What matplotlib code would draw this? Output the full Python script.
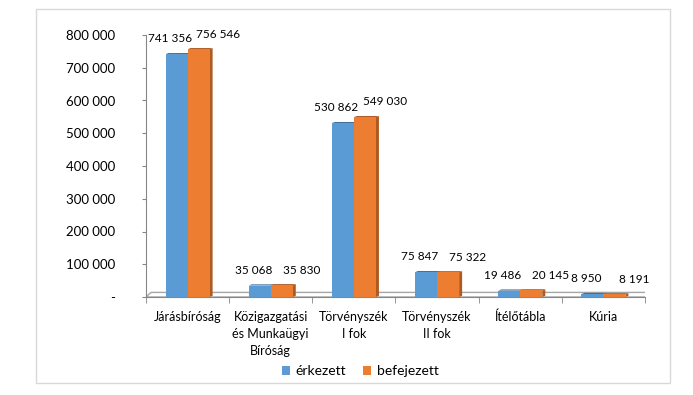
import numpy as np
import matplotlib
matplotlib.use("Agg")
import matplotlib.pyplot as plt
from matplotlib.patches import Polygon, Rectangle

categories = ["Járásbíróság", "Közigazgatási\nés Munkaügyi\nBíróság", "Törvényszék\nI fok",
              "Törvényszék\nII fok", "Ítélőtábla", "Kúria"]
erkezett = [741356, 35068, 530862, 75847, 19486, 8950]
befejezett = [756546, 35830, 549030, 75322, 20145, 8191]
series_names = ["érkezett", "befejezett"]
yticks = [0, 100000, 200000, 300000, 400000, 500000, 600000, 700000, 800000]

plt.rcParams['font.family'] = ['Lato', 'DejaVu Sans']

W, H = 693, 395
fig = plt.figure(figsize=(W / 100, H / 100), dpi=100)
ax = fig.add_axes([146 / W, 1 - 297 / H, (645 - 146) / W, (297 - 35) / H])

n = len(categories)
x = np.arange(n)
bw = 0.265
cols = ["#5B9BD5", "#ED7D31"]
dark = ["#41719C", "#AE5A21"]
dx, dy = 0.036, 3600  # fake 3D depth

# floor slab
floor = Polygon([(-0.5, 0), (n - 0.5, 0), (n - 0.5 + 0.06, 14000), (-0.5 + 0.06, 14000)],
                closed=True, facecolor="white", edgecolor="#A6A6A6", lw=1, zorder=1)
ax.add_patch(floor)

for s, vals in enumerate([erkezett, befejezett]):
    xs = x + (s - 0.5) * bw
    ax.bar(xs, vals, width=bw, color=cols[s], zorder=3, label=series_names[s])
    for xi, v in zip(xs, vals):
        r = xi + bw / 2
        l = xi - bw / 2
        # side and top faces
        ax.add_patch(Polygon([(r, 0), (r + dx, dy), (r + dx, v + dy), (r, v)],
                             closed=True, facecolor=dark[s], edgecolor="none", zorder=2))
        ax.add_patch(Polygon([(l, v), (r, v), (r + dx, v + dy), (l + dx, v + dy)],
                             closed=True, facecolor=dark[s], edgecolor="none", zorder=2))

# data labels
for i in range(n):
    ax.annotate(f"{erkezett[i]:,}".replace(",", " "), (x[i] - 0.21, erkezett[i]),
                xytext=(0, 7), textcoords="offset points", ha="center", va="bottom",
                fontsize=8.5, color="#000000", zorder=5)
    ax.annotate(f"{befejezett[i]:,}".replace(",", " "), (x[i] + 0.37, befejezett[i]),
                xytext=(0, 7), textcoords="offset points", ha="center", va="bottom",
                fontsize=8.5, color="#000000", zorder=5)

ax.set_xlim(-0.5, n - 0.5)
ax.set_ylim(0, 800000)
ax.set_yticks(yticks)
ax.set_yticklabels(["-"] + [f"{t:,}".replace(",", " ") for t in yticks[1:]], fontsize=9.5)
ax.set_xticks(x)
ax.set_xticklabels(categories, fontsize=9, linespacing=1.5)
ax.set_xticks(np.arange(n + 1) - 0.5, minor=True)
ax.tick_params(axis="x", which="major", length=0, pad=10)
ax.tick_params(axis="x", which="minor", length=4, color="#868686", direction="out")
ax.tick_params(axis="y", length=3, color="#868686", pad=19)

for sp in ["top", "right"]:
    ax.spines[sp].set_visible(False)
ax.spines["left"].set_color("#868686")
ax.spines["bottom"].set_color("#868686")
ax.patch.set_alpha(0)

# outer frame
fig.patches.append(Rectangle((36 / W, 1 - 383 / H), (670 - 36) / W, (383 - 9) / H,
                             transform=fig.transFigure, fill=False, edgecolor="#D9D9D9", lw=1))

fig.legend(loc="center", bbox_to_anchor=(360 / W, 1 - 371 / H), ncol=2, frameon=False,
           fontsize=10, handlelength=0.6, handleheight=0.6, handletextpad=0.4, columnspacing=1.2)

fig.savefig("out.png", dpi=100, facecolor="white")
